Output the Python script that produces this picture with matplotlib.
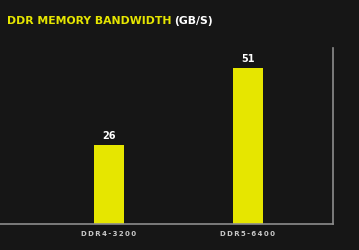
import matplotlib.pyplot as plt

labels = ['DDR4-3200', 'DDR5-6400']
values = [26, 51]

bg = '#161616'
yellow = '#e6e600'

fig = plt.figure(figsize=(3.59, 2.50), dpi=100, facecolor=bg)
ax = fig.add_axes([0.0, 1 - 224 / 250, 333 / 359, (224 - 48) / 250])
ax.set_facecolor(bg)

x = list(range(len(values)))
ax.bar(x, values, width=0.215, color=yellow, zorder=2)
for xi, v in zip(x, values):
    ax.annotate(str(v), (xi, v), textcoords='offset points', xytext=(0, 3),
                ha='center', va='bottom', color='white', fontsize=7,
                fontweight='bold')

ax.set_xlim(-0.784, 1.612)
ax.set_ylim(0, 57.7)
ax.set_xticks(x)
ax.set_xticklabels(['\u2009'.join(l) for l in labels], color='#c8c8c8',
                   fontsize=5.0, fontweight='bold')
ax.tick_params(axis='x', length=0, pad=5)
ax.set_yticks([])
for s in ['top', 'left']:
    ax.spines[s].set_visible(False)
for s in ['bottom', 'right']:
    ax.spines[s].set_color('#8c8c8c')
    ax.spines[s].set_linewidth(1.2)

t1 = fig.text(7 / 359, 1 - 21 / 250, 'DDR MEMORY BANDWIDTH', color=yellow,
              fontsize=7.8, fontweight='bold', va='center', ha='left')
fig.canvas.draw()
bb = t1.get_window_extent()
fig.text((bb.x1 + 3) / 359, 1 - 21 / 250, '(GB/S)', color='white',
         fontsize=7.8, fontweight='bold', va='center', ha='left')

fig.savefig('out.png', dpi=100, facecolor=bg)
